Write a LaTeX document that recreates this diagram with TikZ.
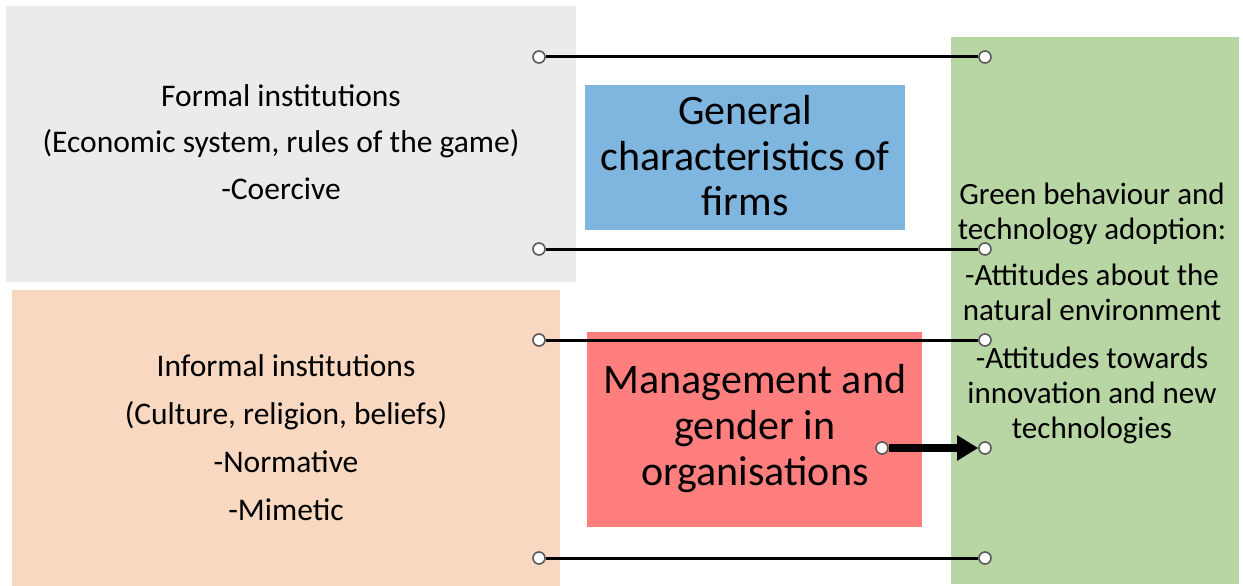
\documentclass[tikz,border=0pt]{standalone}
\usepackage{fontspec}
\setmainfont{Carlito}
\usetikzlibrary{arrows.meta}
\definecolor{formalgray}{HTML}{EBEBEB}
\definecolor{informalpeach}{HTML}{F8D8C0}
\definecolor{firmblue}{HTML}{7FB6DF}
\definecolor{mgmtred}{HTML}{FF7F7F}
\definecolor{greenbox}{HTML}{B8D6A4}
\definecolor{pinstroke}{HTML}{5A5A5A}
\tikzset{
  pin/.style={circle, draw=pinstroke, fill=white, line width=1.6pt, minimum size=12pt, inner sep=0pt},
  link/.style={draw=black, line width=3pt},
  bigarrow/.style={draw=black, line width=8pt, -{Triangle[length=21pt,width=24pt]}},
  txt/.style={align=center, text=black, inner sep=0pt}
}
\begin{document}
\begin{tikzpicture}[x=1pt,y=-1pt]
\useasboundingbox (0,0) rectangle (1243,586);
% boxes
\fill[formalgray] (6,6) rectangle (576,282);
\fill[informalpeach] (12,290) rectangle (560,586);
\fill[firmblue] (585,85) rectangle (905,230);
\fill[mgmtred] (587,332) rectangle (922,527);
\fill[greenbox] (951,37) rectangle (1239,584);
% texts
\node[txt, font=\fontsize{31.5}{46.5}\selectfont] (formal) at (281,142)
  {Formal institutions\\(Economic system, rules of the game)\\-Coercive};
\node[txt, font=\fontsize{31.5}{48}\selectfont] (informal) at (286,438)
  {Informal institutions\\(Culture, religion, beliefs)\\-Normative\\-Mimetic};
\node[txt, font=\fontsize{42}{45.5}\selectfont] (general) at (745,156)
  {General\\characteristics of\\firms};
\node[txt, font=\fontsize{42}{46}\selectfont] (mgmt) at (755,429)
  {Management and\\gender in\\organisations};
\node[txt, font=\fontsize{31}{35}\selectfont] (green) at (1092,313.5)
  {Green behaviour and\\technology adoption:\\[11pt]-Attitudes about the\\natural environment\\[13pt]-Attitudes towards\\innovation and new\\technologies};
% pins
\node[pin] (l1) at (539,57) {};
\node[pin] (r1) at (985,57) {};
\node[pin] (l2) at (539,249) {};
\node[pin] (r2) at (985,249) {};
\node[pin] (l3) at (539,340) {};
\node[pin] (r3) at (985,340) {};
\node[pin] (l4) at (539,558) {};
\node[pin] (r4) at (985,558) {};
\node[pin] (m1) at (882,448) {};
\node[pin] (rm) at (985,448) {};
% connectors
\draw[link] (l1) -- (r1);
\draw[link] (l2) -- (r2);
\draw[link] (l3) -- (r3);
\draw[link] (l4) -- (r4);
\draw[bigarrow] (m1) -- (rm);
\end{tikzpicture}
\end{document}
